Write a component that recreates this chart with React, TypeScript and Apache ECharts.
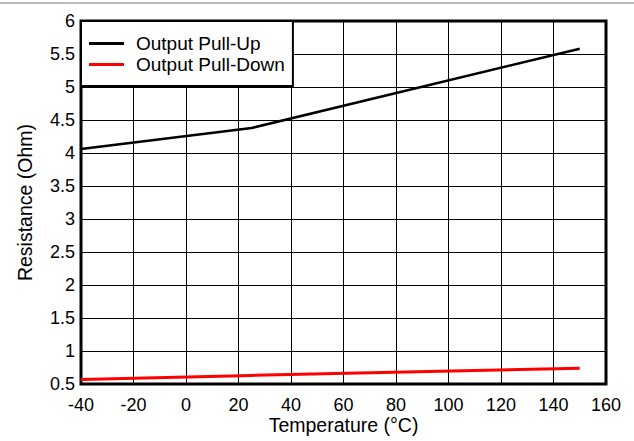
import React, { useEffect, useRef } from "react";
import * as echarts from "echarts";

const temperatures = [-40, 25, 150];
const pullUp = [4.06, 4.38, 5.58];
const pullDown = [0.57, 0.63, 0.74];
const seriesNames = ["Output Pull-Up", "Output Pull-Down"];
const xTitle = "Temperature (°C)";
const yTitle = "Resistance (Ohm)";

const FONT = "Liberation Sans, Arial, sans-serif";

export default function App() {
  const ref = useRef<HTMLDivElement>(null);
  useEffect(() => {
    if (!ref.current) return;
    const chart = echarts.init(ref.current, null, { renderer: "svg" });
    chart.setOption({
      animation: false,
      backgroundColor: "#fff",
      textStyle: { fontFamily: FONT },
      grid: {
        left: 81,
        right: 28,
        top: 21,
        bottom: 57,
        outerBoundsMode: "none",
        containLabel: false,
        show: true,
        borderColor: "#000",
        borderWidth: 3,
        backgroundColor: "transparent",
        z: 3,
      },
      legend: {
        orient: "vertical",
        left: 81,
        top: 21,
        padding: [13, 8, 12, 8],
        itemGap: 2,
        itemWidth: 35,
        itemHeight: 3,
        icon: "rect",
        backgroundColor: "#fff",
        borderColor: "#000",
        borderWidth: 2,
        borderRadius: 0,
        textStyle: {
          fontSize: 19,
          lineHeight: 19,
          color: "#000",
          fontFamily: FONT,
          padding: [0, 0, 0, 7],
        },
        data: seriesNames,
        z: 10,
      },
      xAxis: {
        type: "value",
        min: -40,
        max: 160,
        interval: 20,
        name: xTitle,
        nameLocation: "middle",
        nameGap: 31,
        nameMoveOverlap: false,
        nameTextStyle: { fontSize: 19.5, color: "#000", fontFamily: FONT },
        axisLine: { show: false },
        axisTick: { show: false },
        axisLabel: { fontSize: 18, color: "#000", margin: 12, fontFamily: FONT },
        splitLine: { show: true, lineStyle: { color: "#000", width: 1 } },
      },
      yAxis: {
        type: "value",
        min: 0.5,
        max: 6,
        interval: 0.5,
        name: yTitle,
        nameLocation: "middle",
        nameGap: 46,
        nameMoveOverlap: false,
        nameTextStyle: { fontSize: 19.5, color: "#000", fontFamily: FONT },
        axisLine: { show: false },
        axisTick: { show: false },
        axisLabel: { fontSize: 18, color: "#000", margin: 6, fontFamily: FONT },
        splitLine: { show: true, lineStyle: { color: "#000", width: 1 } },
      },
      series: [
        {
          name: seriesNames[0],
          type: "line",
          data: temperatures.map((t, i) => [t, pullUp[i]]),
          showSymbol: false,
          symbol: "none",
          color: "#000",
          lineStyle: { color: "#000", width: 2.5 },
          z: 5,
        },
        {
          name: seriesNames[1],
          type: "line",
          data: temperatures.map((t, i) => [t, pullDown[i]]),
          showSymbol: false,
          symbol: "none",
          color: "#ff0000",
          lineStyle: { color: "#ff0000", width: 3 },
          z: 5,
        },
      ],
      graphic: [
        {
          type: "line",
          shape: { x1: 0, y1: 3, x2: 634, y2: 3 },
          style: { stroke: "#777", lineWidth: 1 },
        },
      ],
    });
    return () => chart.dispose();
  }, []);
  return (
    <div
      ref={ref}
      style={{ position: "fixed", left: 0, top: 0, width: 634, height: 441 }}
    />
  );
}
